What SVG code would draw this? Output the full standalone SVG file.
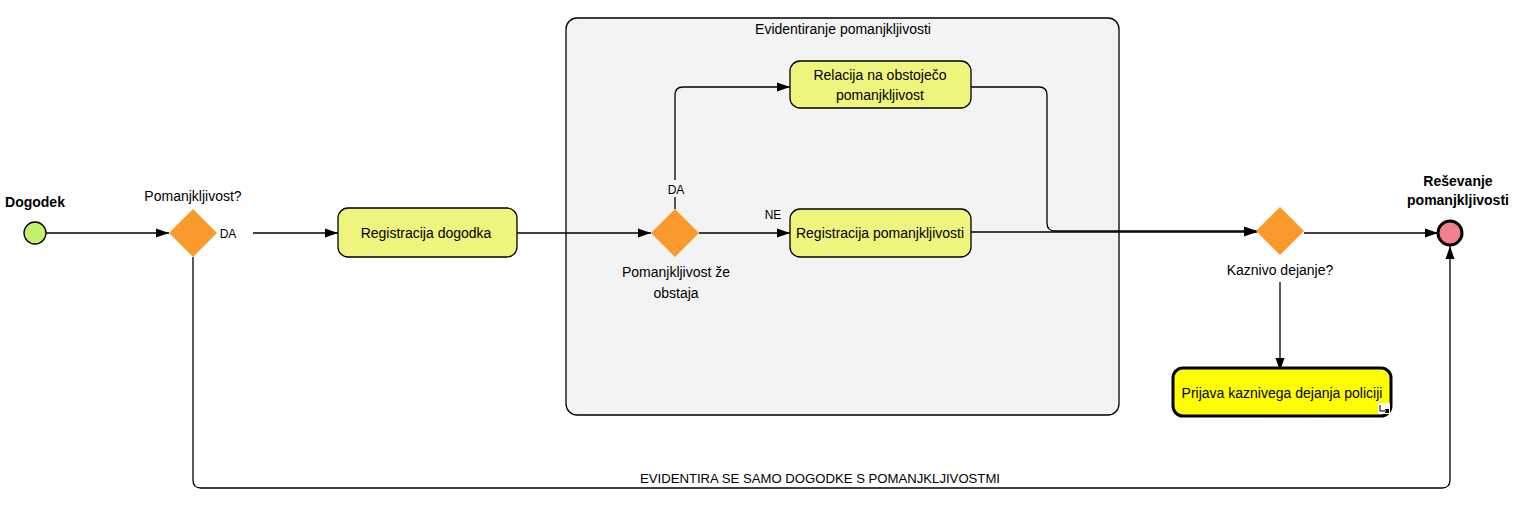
<svg xmlns="http://www.w3.org/2000/svg" width="1513" height="511" viewBox="0 0 1513 511">
<defs>
<marker id="arr" markerWidth="14" markerHeight="10" refX="13" refY="5" orient="auto" markerUnits="userSpaceOnUse">
<path d="M0,0.5 L13,5 L0,9.5 Z" fill="#000"/>
</marker>
<style>
text{font-family:"Liberation Sans",Arial,sans-serif;font-size:14px;fill:#000;text-anchor:middle}
.b{font-weight:bold}
.s{font-size:12px}
.task{fill:#eef47c;stroke:#000;stroke-width:1.3}
.gw{fill:#fb9a2c;stroke:none}
.e{fill:none;stroke:#000;stroke-width:1.3}
</style>
</defs>
<rect width="1513" height="511" fill="#fff"/>

<g id="subprocess">
<rect x="566" y="18" width="553" height="397" rx="11" fill="#f3f3f3" stroke="#000" stroke-width="1.3"/>
<text x="843" y="34">Evidentiranje pomanjkljivosti</text>
</g>

<g id="connectors">
<path class="e" d="M46,233 H169" marker-end="url(#arr)"/>
<path class="e" d="M253,233 H338" marker-end="url(#arr)"/>
<path class="e" d="M517,233 H651" marker-end="url(#arr)"/>
<path class="e" d="M675,209 V197 M675,180 V95 Q675,87 683,87 H790" marker-end="url(#arr)"/>
<path class="e" d="M699,233 H790" marker-end="url(#arr)"/>
<path class="e" d="M971,87 H1039 Q1047,87 1047,95 V223 Q1047,231 1055,231 H1257" marker-end="url(#arr)"/>
<path class="e" d="M971,232 H1257" marker-end="url(#arr)"/>
<path class="e" d="M1304,233 H1438" marker-end="url(#arr)"/>
<path class="e" d="M1280,282 V371" marker-end="url(#arr)"/>
<path class="e" d="M193,257 V480 Q193,488 201,488 H1442 Q1450,488 1450,480 V246" marker-end="url(#arr)"/>
<text x="228" y="238" class="s">DA</text>
<text x="676" y="194" class="s">DA</text>
<text x="773" y="219" class="s">NE</text>
<text x="820" y="483" class="s" textLength="360" lengthAdjust="spacingAndGlyphs">EVIDENTIRA SE SAMO DOGODKE S POMANJKLJIVOSTMI</text>
</g>

<g id="start">
<circle cx="35" cy="233" r="11" fill="#c4f06c" stroke="#000" stroke-width="1.3"/>
<text x="35" y="207" class="b">Dogodek</text>
</g>

<g id="gw1">
<path class="gw" d="M193,209 L217,233 L193,257 L169,233 Z"/>
<text x="193" y="201">Pomanjkljivost?</text>
</g>

<g id="task1">
<rect class="task" x="338" y="208" width="179" height="49" rx="10"/>
<text x="426" y="238">Registracija dogodka</text>
</g>

<g id="gw2">
<path class="gw" d="M675,209 L699,233 L675,257 L651,233 Z"/>
<text x="676" y="277">Pomanjkljivost že</text>
<text x="676" y="298">obstaja</text>
</g>

<g id="task2">
<rect class="task" x="790" y="61" width="181" height="47" rx="10"/>
<text x="880" y="80">Relacija na obstoječo</text>
<text x="880" y="100">pomanjkljivost</text>
</g>

<g id="task3">
<rect class="task" x="790" y="209" width="181" height="48" rx="10"/>
<text x="880" y="238">Registracija pomanjkljivosti</text>
</g>

<g id="gw3">
<path class="gw" d="M1280,207 L1304,231 L1280,255 L1256,231 Z"/>
<text x="1280" y="275">Kaznivo dejanje?</text>
</g>

<g id="end">
<circle cx="1450" cy="233" r="12" fill="#f2808a" stroke="#000" stroke-width="3"/>
<text x="1458" y="186" class="b">Reševanje</text>
<text x="1458" y="205" class="b">pomanjkljivosti</text>
</g>

<g id="task4">
<rect x="1173" y="368" width="218" height="48" rx="10" fill="#ffff00" stroke="#000" stroke-width="3"/>
<text x="1282" y="398">Prijava kaznivega dejanja policiji</text>
<rect x="1378" y="403" width="12" height="11" fill="#fff" stroke="none"/>
<path d="M1380,405 V411 H1387 M1385,409 L1387,411 L1385,413" fill="none" stroke="#000" stroke-width="1"/>
<rect x="1386" y="409" width="3" height="4" fill="#000"/>
</g>
</svg>
